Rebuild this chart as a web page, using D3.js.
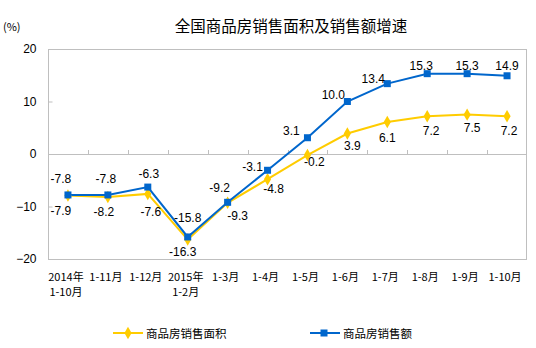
<!DOCTYPE html>
<html><head><meta charset="utf-8">
<script src="https://cdn.jsdelivr.net/npm/d3@7/dist/d3.min.js"></script>
<style>body{margin:0;background:#fff}svg{display:block}</style>
</head><body><div id="chart"></div>
<script>
const categories = ["2014年\n1-10月","1-11月","1-12月","2015年\n1-2月","1-3月","1-4月","1-5月","1-6月","1-7月","1-8月","1-9月","1-10月"];
const areaGrowth = [-7.9,-8.2,-7.6,-16.3,-9.3,-4.8,-0.2,3.9,6.1,7.2,7.5,7.2];
const salesGrowth = [-7.8,-7.8,-6.3,-15.8,-9.2,-3.1,3.1,10.0,13.4,15.3,15.3,14.9];
const yTicks = [-20,-10,0,10,20];
const seriesNames = ["商品房销售面积","商品房销售额"];
const title = "全国商品房销售面积及销售额增速";
const unitLabel = "(%)";

// label nudges (layout only)
const salesLabelDx = [-7,-2,1,0,-8,-15,-16,-14,-14,-6,0,0];
const salesLabelDy = [-12,-12,-9,-15,-10,1,-3,-3,-1,-4,-4,-6];
const areaLabelDx = [-7,-4,3,-5,10,6,7,5,0,4,5,2];
const areaLabelDy = [20,19,22,16,17,13.5,11,16,20,18.5,17,18.5];

const W = 536, H = 348;
const m = {l:48, r:9, t:49, b:89};
const svg = d3.select("#chart").append("svg").attr("width",W).attr("height",H);

const x = d3.scaleBand().domain(categories).range([m.l, W-m.r]).padding(0);
const y = d3.scaleLinear().domain([-20,20]).range([H-m.b, m.t]);
const cx = d => x(d) + x.bandwidth()/2;

const gray = "#bfbfbf";
const yellow = "#FFCC00", blue = "#0066CC";

// frame
svg.append("rect").attr("x", m.l+0.5).attr("y", y(20)+0.5)
  .attr("width", W-m.r-m.l-1).attr("height", y(-20)-y(20)).attr("fill","none").attr("stroke",gray);

// y axis
const ya = svg.append("g").attr("transform",`translate(${m.l+0.5},0)`)
  .call(d3.axisLeft(y).tickValues(yTicks).tickSize(-4).tickPadding(12).tickFormat(d3.format("d")));
ya.select(".domain").remove();
ya.selectAll(".tick line").attr("stroke",gray);
ya.selectAll("text").attr("font-family","Liberation Sans, Arial, sans-serif").attr("font-size",12).attr("fill","#000");

// zero line + category ticks
svg.append("line").attr("x1",m.l).attr("x2",W-m.r).attr("y1",Math.round(y(0))+0.5).attr("y2",Math.round(y(0))+0.5).attr("stroke",gray);
svg.append("g").selectAll("line").data(categories.slice(1)).join("line")
  .attr("x1",d=>Math.round(x(d))+0.5).attr("x2",d=>Math.round(x(d))+0.5)
  .attr("y1",Math.round(y(0))).attr("y2",Math.round(y(0))-4).attr("stroke",gray);

// x labels
const xl = svg.append("g").selectAll("text").data(categories).join("text")
  .attr("x",d=>cx(d)-2).attr("y",H-m.b+22)
  .attr("text-anchor","middle").attr("font-family","'Noto Sans CJK SC', sans-serif").attr("font-size",11).attr("fill","#000");
xl.each(function(d){
  const t = d3.select(this);
  d.split("\n").forEach((s,i)=>{
    t.append("tspan").attr("x",cx(d)-2).attr("dy", i===0?0:15).text(s);
  });
});

// lines
const line = d3.line().x((d,i)=>cx(categories[i])).y(d=>y(d));
svg.append("path").datum(areaGrowth).attr("d",line).attr("fill","none").attr("stroke",yellow).attr("stroke-width",2);
svg.append("path").datum(salesGrowth).attr("d",line).attr("fill","none").attr("stroke",blue).attr("stroke-width",2);

svg.append("g").selectAll("path").data(areaGrowth).join("path")
  .attr("transform",(d,i)=>`translate(${cx(categories[i])},${y(d)})`)
  .attr("d",d3.symbol().type(d3.symbolDiamond).size(45)).attr("fill",yellow);
svg.append("g").selectAll("rect").data(salesGrowth).join("rect")
  .attr("x",(d,i)=>cx(categories[i])-3.5).attr("y",d=>y(d)-3.5).attr("width",7).attr("height",7).attr("fill",blue);

// data labels
const lf = "Liberation Sans, Arial, sans-serif";
svg.append("g").selectAll("text").data(salesGrowth).join("text")
  .attr("x",(d,i)=>cx(categories[i])+salesLabelDx[i]).attr("y",(d,i)=>y(d)+salesLabelDy[i])
  .attr("text-anchor","middle").attr("font-family",lf).attr("font-size",12).attr("fill","#000")
  .text(d=>d.toFixed(1));
svg.append("g").selectAll("text").data(areaGrowth).join("text")
  .attr("x",(d,i)=>cx(categories[i])+areaLabelDx[i]).attr("y",(d,i)=>y(d)+areaLabelDy[i])
  .attr("text-anchor","middle").attr("font-family",lf).attr("font-size",12).attr("fill","#000")
  .text(d=>d.toFixed(1));

// title & unit
svg.append("text").attr("x",291).attr("y",32).attr("text-anchor","middle")
  .attr("font-family","'Noto Sans CJK SC', sans-serif").attr("font-size",15.5).attr("fill","#000").text(title);
svg.append("text").attr("x",3).attr("y",31)
  .attr("font-family","'Noto Sans CJK SC', sans-serif").attr("font-size",11).attr("fill","#000").text(unitLabel);

// legend
const lg = [{name:seriesNames[0],color:yellow,x:113,shape:"d"},{name:seriesNames[1],color:blue,x:310,shape:"s"}];
const ly = 333;
lg.forEach(o=>{
  svg.append("line").attr("x1",o.x).attr("x2",o.x+30).attr("y1",ly).attr("y2",ly).attr("stroke",o.color).attr("stroke-width",2);
  if(o.shape==="d") svg.append("path").attr("transform",`translate(${o.x+15},${ly})`).attr("d",d3.symbol().type(d3.symbolDiamond).size(45)).attr("fill",o.color);
  else svg.append("rect").attr("x",o.x+14-3.5).attr("y",ly-3.5).attr("width",7).attr("height",7).attr("fill",o.color);
  svg.append("text").attr("x",o.x+33).attr("y",ly+4.5).attr("font-family","'Noto Sans CJK SC', sans-serif")
    .attr("font-size",11.5).attr("fill","#000").text(o.name);
});
</script></body></html>
